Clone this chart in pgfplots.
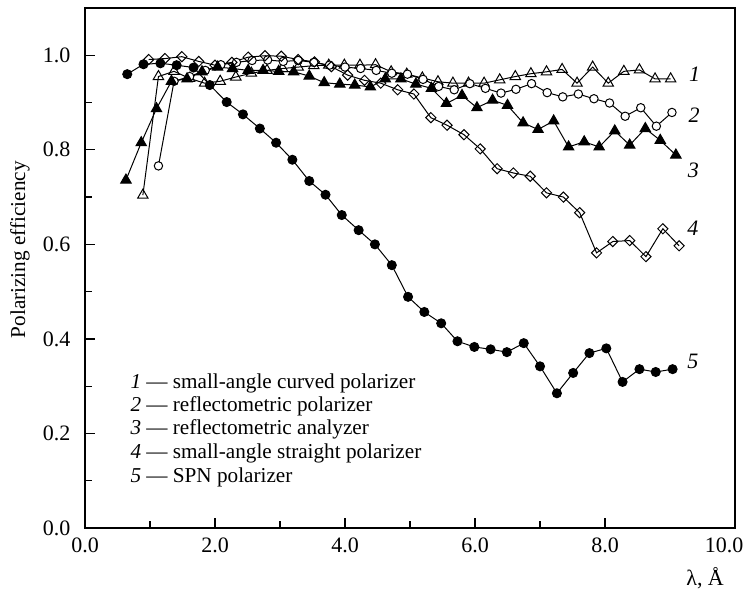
\documentclass[border=0pt]{standalone}
\usepackage{fontspec}
\setmainfont{Liberation Serif}
\usepackage{pgfplots}
\pgfplotsset{compat=1.18}
\begin{document}
\fontsize{11}{13}\selectfont
\begin{tikzpicture}[font=\fontsize{11}{13}\selectfont]
\begin{axis}[
  scale only axis, width=325pt, height=260pt,
  xmin=0, xmax=10, ymin=0, ymax=1.1,
  xtick={0,2,4,6,8}, ytick={0,0.2,0.4,0.6,0.8,1.0},
  extra x ticks={10},
  extra x tick style={xticklabel style={xshift=-5.5pt}},
  minor x tick num=1, minor y tick num=1,
  tick pos=left, tick align=inside,
  major tick length=5pt, minor tick length=3.5pt,
  axis line style={line width=0.6pt},
  every tick/.style={black, line width=0.6pt},
  yticklabel style={xshift=-3.5pt},
  xticklabel style={yshift=-1pt},
  /pgf/number format/.cd, fixed, fixed zerofill, precision=1, assume math mode=true,
  /pgfplots/.cd,
  ylabel={Polarizing efficiency},
  ylabel style={at={(axis description cs:-0.1,0.535)}, anchor=center, font=\fontsize{10.6}{12}\selectfont},
  xlabel={λ, Å},
  xlabel style={at={(axis description cs:0.954,0)}, anchor=center, yshift=-25pt},
  every axis plot/.append style={black, line width=0.5pt, mark options={solid, line width=0.5pt}},
]
% 1 small-angle curved polarizer
\addplot[mark=triangle, mark size=3pt, mark options={fill=white}] coordinates {
(0.89,0.704) (1.13,0.955) (1.37,0.966) (1.61,0.951) (1.84,0.941) (2.08,0.945)
(2.32,0.954) (2.56,0.962) (2.80,0.968) (3.04,0.972) (3.28,0.975) (3.52,0.978)
(3.75,0.979) (3.99,0.979) (4.23,0.979) (4.47,0.980) (4.71,0.965) (4.95,0.960)
(5.19,0.952) (5.43,0.944) (5.66,0.941) (5.90,0.941) (6.14,0.941) (6.38,0.948)
(6.62,0.955) (6.86,0.961) (7.10,0.965) (7.34,0.970) (7.57,0.941) (7.81,0.975)
(8.05,0.941) (8.29,0.966) (8.53,0.969) (8.77,0.950) (9.01,0.950)};
% 2 reflectometric polarizer
\addplot[mark=*, mark size=2.1pt, mark options={fill=white}] coordinates {
(1.13,0.766) (1.37,0.945) (1.61,0.955) (1.85,0.968) (2.09,0.980) (2.33,0.985)
(2.57,0.989) (2.81,0.990) (3.05,0.987) (3.28,0.989) (3.52,0.985) (3.76,0.979)
(4.00,0.975) (4.24,0.972) (4.48,0.968) (4.72,0.962) (4.96,0.960) (5.20,0.949)
(5.44,0.934) (5.68,0.927) (5.92,0.940) (6.16,0.930) (6.40,0.920) (6.63,0.928)
(6.87,0.940) (7.11,0.921) (7.35,0.912) (7.59,0.918) (7.83,0.908) (8.07,0.899)
(8.31,0.871) (8.55,0.889) (8.79,0.850) (9.03,0.879)};
% 3 reflectometric analyzer
\addplot[mark=triangle*, mark size=3pt] coordinates {
(0.63,0.736) (0.865,0.815) (1.10,0.887) (1.33,0.945) (1.57,0.950) (1.80,0.965)
(2.04,0.975) (2.27,0.972) (2.51,0.968) (2.74,0.968) (2.98,0.966) (3.21,0.965)
(3.45,0.956) (3.68,0.942) (3.92,0.939) (4.15,0.937) (4.39,0.933) (4.62,0.950)
(4.86,0.950) (5.09,0.939) (5.33,0.930) (5.56,0.898) (5.80,0.915) (6.03,0.889)
(6.27,0.905) (6.50,0.894) (6.74,0.857) (6.97,0.843) (7.21,0.861) (7.44,0.806)
(7.68,0.817) (7.91,0.806) (8.15,0.840) (8.38,0.810) (8.62,0.845) (8.85,0.820)
(9.09,0.789)};
% 4 small-angle straight polarizer
\addplot[mark=square, mark size=1.8pt, mark options={fill=white, rotate=45}] coordinates {
(0.98,0.991) (1.23,0.993) (1.49,0.997) (1.75,0.987) (2.00,0.979) (2.26,0.985)
(2.51,0.996) (2.77,0.999) (3.02,0.998) (3.28,0.991) (3.53,0.986) (3.79,0.976)
(4.04,0.958) (4.30,0.947) (4.55,0.941) (4.81,0.927) (5.06,0.918) (5.32,0.868)
(5.57,0.852) (5.83,0.832) (6.08,0.802) (6.34,0.760) (6.59,0.751) (6.85,0.744)
(7.10,0.709) (7.36,0.700) (7.61,0.667) (7.87,0.582) (8.12,0.606) (8.38,0.608)
(8.63,0.574) (8.89,0.633) (9.14,0.597)};
% 5 SPN polarizer
\addplot[mark=*, mark size=2.25pt] coordinates {
(0.65,0.960) (0.90,0.981) (1.16,0.983) (1.41,0.979) (1.67,0.974) (1.92,0.937)
(2.18,0.901) (2.43,0.875) (2.69,0.845) (2.94,0.815) (3.19,0.779) (3.45,0.734)
(3.70,0.705) (3.95,0.662) (4.21,0.630) (4.46,0.600) (4.72,0.556) (4.97,0.489)
(5.22,0.457) (5.48,0.433) (5.73,0.395) (5.99,0.383) (6.24,0.378) (6.49,0.372)
(6.75,0.391) (7.00,0.342) (7.26,0.285) (7.51,0.328) (7.76,0.370) (8.02,0.380)
(8.27,0.309) (8.53,0.336) (8.78,0.330) (9.04,0.336)};
% curve numbers
\node at (axis cs:9.38,0.960) {\textit{1}};
\node at (axis cs:9.37,0.874) {\textit{2}};
\node at (axis cs:9.36,0.756) {\textit{3}};
\node at (axis cs:9.35,0.634) {\textit{4}};
\node at (axis cs:9.35,0.353) {\textit{5}};
% legend text
\begin{scope}[every node/.style={anchor=base west, inner sep=0pt, font=\fontsize{10.6}{12}\selectfont}]
\node at (axis cs:0.694,0.296) {\textit{1} — small-angle curved polarizer};
\node at (axis cs:0.694,0.246) {\textit{2} — reflectometric polarizer};
\node at (axis cs:0.694,0.197) {\textit{3} — reflectometric analyzer};
\node at (axis cs:0.694,0.147) {\textit{4} — small-angle straight polarizer};
\node at (axis cs:0.694,0.097) {\textit{5} — SPN polarizer};
\end{scope}
\end{axis}
\pgfresetboundingbox
\path[use as bounding box] ([shift={(-42.5pt,-32.5pt)}]current axis.south west) rectangle ([shift={(4pt,4pt)}]current axis.north east);
\end{tikzpicture}
\end{document}
